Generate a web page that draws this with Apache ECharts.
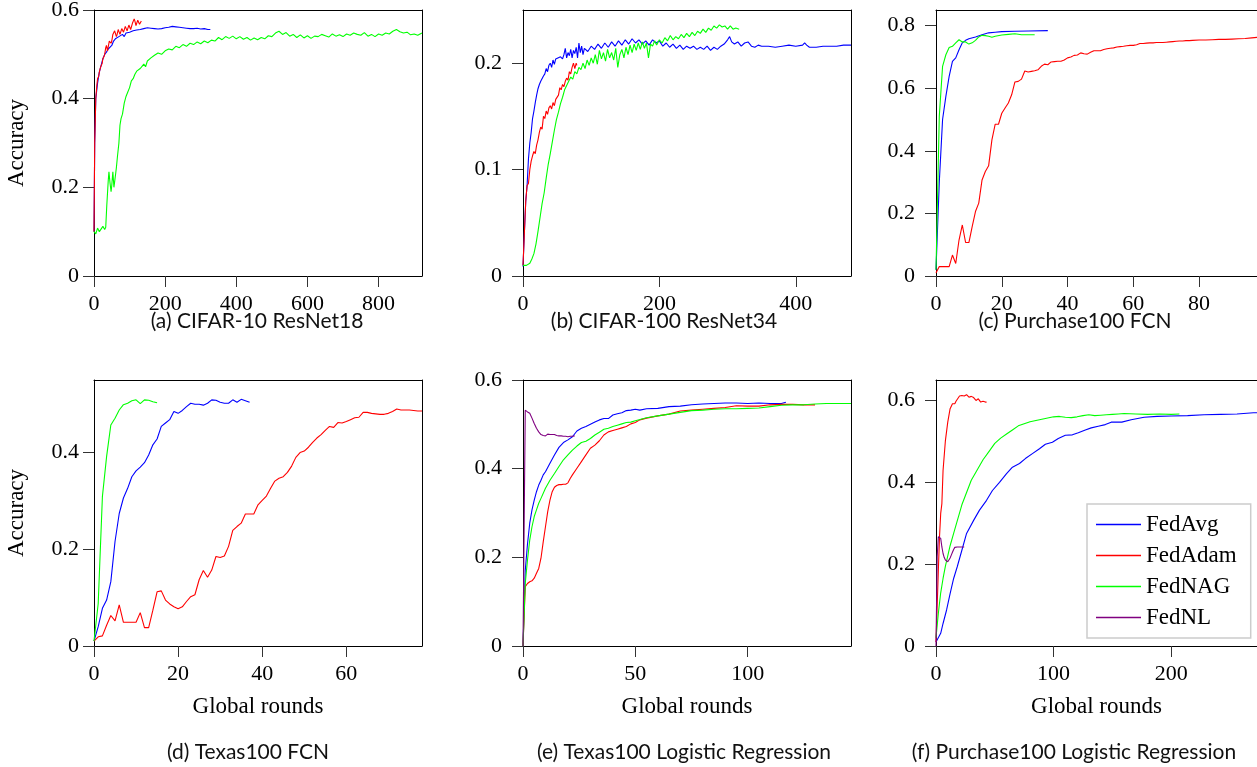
<!DOCTYPE html>
<html><head><meta charset="utf-8">
<script src="https://cdn.jsdelivr.net/npm/echarts@6/dist/echarts.min.js"></script>
<style>html,body{margin:0;padding:0;background:#fff}#c{width:1257px;height:767px}</style>
</head><body><div id="c"></div>
<script>
// ---------- data: [global round, accuracy] ----------
const seriesNames = ['FedAvg','FedAdam','FedNAG','FedNL'];

// (a) CIFAR-10 ResNet18
const aAvg = [[0,0.10],[2,0.30],[5,0.40],[10,0.435],[15,0.46],[20,0.475],[25,0.49],[30,0.50],[35,0.505],[40,0.512],[45,0.515],[50,0.52],[55,0.53],[60,0.535],[65,0.532],[70,0.54],[75,0.538],[80,0.545],[85,0.54],[90,0.548],[95,0.545],[100,0.55],[105,0.547],[110,0.553],[115,0.55],[120,0.555],[125,0.552],[130,0.556],[135,0.553],[140,0.558],[145,0.555],[150,0.56],[155,0.556],[160,0.559],[165,0.562],[170,0.558],[175,0.561],[180,0.557],[185,0.56],[190,0.558],[195,0.562],[200,0.56],[205,0.563],[210,0.561],[215,0.565],[220,0.563],[225,0.567],[230,0.562],[235,0.564],[240,0.561],[245,0.563],[250,0.56],[255,0.562],[260,0.559],[265,0.561],[270,0.558],[275,0.56],[280,0.558],[285,0.561],[290,0.559],[295,0.56],[300,0.557],[305,0.56],[310,0.558],[315,0.559],[320,0.556],[327,0.556]];
const aAdam = [[0,0.10],[2,0.30],[5,0.40],[8,0.43],[10,0.445],[13,0.45],[15,0.46],[18,0.47],[20,0.468],[23,0.48],[25,0.49],[28,0.495],[30,0.50],[33,0.515],[35,0.52],[38,0.508],[40,0.512],[43,0.53],[45,0.528],[48,0.525],[50,0.53],[53,0.545],[55,0.548],[58,0.553],[60,0.55],[63,0.54],[65,0.545],[68,0.556],[70,0.555],[73,0.545],[75,0.548],[78,0.558],[80,0.56],[83,0.55],[85,0.552],[88,0.563],[90,0.562],[93,0.553],[95,0.556],[98,0.566],[100,0.565],[103,0.556],[105,0.558],[108,0.57],[110,0.568],[113,0.58],[115,0.575],[118,0.565],[120,0.567],[123,0.577],[125,0.575],[128,0.568],[130,0.572],[133,0.575]];
const aNag = [[0,0.100],[5,0.095],[10,0.108],[15,0.100],[20,0.097],[25,0.112],[30,0.105],[33,0.11],[36,0.16],[40,0.215],[42,0.235],[45,0.21],[48,0.19],[50,0.205],[53,0.235],[56,0.20],[60,0.225],[63,0.245],[66,0.27],[70,0.30],[73,0.34],[76,0.355],[80,0.365],[85,0.39],[90,0.405],[95,0.415],[100,0.425],[105,0.44],[110,0.445],[115,0.455],[120,0.462],[125,0.458],[130,0.468],[135,0.473],[140,0.478],[145,0.472],[150,0.485],[160,0.492],[170,0.498],[180,0.503],[190,0.500],[200,0.508],[210,0.512],[220,0.510],[230,0.518],[240,0.515],[250,0.522],[260,0.518],[270,0.525],[280,0.522],[290,0.528],[300,0.524],[310,0.530],[320,0.526],[330,0.532],[340,0.530],[350,0.538],[360,0.533],[370,0.540],[380,0.536],[390,0.541],[400,0.535],[410,0.540],[420,0.534],[430,0.538],[440,0.532],[450,0.537],[460,0.533],[470,0.538],[480,0.535],[490,0.542],[500,0.540],[510,0.548],[520,0.552],[530,0.545],[540,0.549],[550,0.541],[560,0.545],[570,0.538],[580,0.544],[590,0.537],[600,0.542],[610,0.536],[620,0.541],[630,0.540],[640,0.545],[650,0.542],[660,0.539],[670,0.546],[680,0.541],[690,0.544],[700,0.540],[710,0.546],[720,0.543],[730,0.548],[740,0.545],[750,0.543],[760,0.549],[770,0.541],[780,0.545],[790,0.540],[800,0.546],[810,0.543],[820,0.548],[830,0.546],[840,0.552],[850,0.556],[860,0.551],[870,0.548],[880,0.550],[890,0.544],[900,0.546],[910,0.543],[922,0.548]];

// (b) CIFAR-100 ResNet34
const bAvg = [[0,0.009],[2,0.04],[4,0.07],[6,0.085],[8,0.11],[10,0.125],[12,0.135],[14,0.148],[16,0.155],[18,0.163],[20,0.17],[22,0.176],[24,0.18],[26,0.183],[28,0.182],[30,0.188],[32,0.19],[34,0.195],[36,0.192],[38,0.198],[40,0.2],[42,0.196],[44,0.203],[46,0.199],[48,0.204],[50,0.203],[55,0.206],[58,0.204],[60,0.208],[62,0.214],[64,0.205],[66,0.21],[68,0.207],[70,0.213],[72,0.205],[74,0.212],[76,0.209],[78,0.215],[80,0.205],[82,0.219],[84,0.21],[86,0.216],[88,0.208],[90,0.214],[95,0.211],[100,0.216],[105,0.213],[110,0.218],[115,0.214],[120,0.219],[125,0.215],[130,0.22],[135,0.216],[140,0.221],[145,0.217],[150,0.222],[155,0.218],[160,0.223],[165,0.219],[170,0.222],[175,0.218],[180,0.221],[185,0.217],[190,0.222],[195,0.219],[200,0.221],[205,0.216],[210,0.219],[215,0.215],[220,0.218],[225,0.214],[230,0.217],[235,0.213],[240,0.216],[245,0.214],[250,0.216],[255,0.213],[260,0.215],[265,0.213],[270,0.216],[275,0.212],[280,0.215],[285,0.213],[290,0.216],[295,0.218],[300,0.222],[303,0.225],[306,0.22],[310,0.218],[315,0.22],[320,0.216],[325,0.219],[330,0.22],[335,0.216],[340,0.215],[345,0.217],[350,0.216],[360,0.216],[370,0.215],[380,0.216],[390,0.217],[400,0.216],[410,0.217],[413,0.219],[416,0.217],[420,0.215],[430,0.215],[440,0.216],[450,0.216],[460,0.216],[470,0.217],[481,0.217]];
const bAdam = [[0,0.01],[2,0.04],[4,0.07],[6,0.085],[8,0.087],[10,0.1],[12,0.108],[14,0.113],[16,0.117],[18,0.115],[20,0.123],[22,0.128],[24,0.135],[26,0.14],[28,0.138],[30,0.15],[32,0.148],[34,0.155],[36,0.152],[38,0.158],[40,0.16],[42,0.157],[44,0.163],[46,0.16],[48,0.166],[50,0.165],[52,0.17],[54,0.177],[56,0.175],[58,0.18],[60,0.178],[62,0.183],[64,0.186],[66,0.184],[68,0.192],[70,0.19],[72,0.196],[74,0.2],[76,0.195],[78,0.2],[79,0.198]];
const bNag = [[0,0.01],[5,0.01],[10,0.012],[13,0.016],[16,0.021],[19,0.03],[22,0.042],[25,0.055],[28,0.068],[31,0.078],[34,0.092],[37,0.105],[40,0.115],[43,0.126],[46,0.137],[49,0.147],[52,0.154],[55,0.162],[58,0.168],[61,0.175],[64,0.179],[67,0.183],[70,0.187],[73,0.185],[76,0.192],[79,0.19],[82,0.196],[85,0.194],[88,0.2],[91,0.195],[94,0.203],[97,0.198],[100,0.205],[103,0.2],[106,0.208],[109,0.199],[112,0.212],[115,0.204],[118,0.21],[121,0.202],[124,0.213],[127,0.205],[130,0.21],[133,0.203],[136,0.214],[139,0.196],[142,0.208],[145,0.213],[148,0.205],[151,0.215],[154,0.208],[157,0.217],[160,0.21],[163,0.218],[166,0.212],[169,0.219],[172,0.213],[175,0.22],[178,0.214],[181,0.219],[184,0.205],[187,0.218],[190,0.216],[193,0.221],[196,0.217],[200,0.222],[204,0.219],[208,0.224],[212,0.221],[216,0.226],[220,0.222],[224,0.225],[228,0.223],[232,0.227],[236,0.224],[240,0.228],[244,0.225],[248,0.229],[252,0.226],[256,0.23],[260,0.228],[264,0.232],[268,0.229],[272,0.233],[276,0.231],[280,0.235],[284,0.233],[288,0.236],[292,0.234],[296,0.235],[300,0.232],[304,0.235],[308,0.232],[312,0.233],[317,0.232]];

// (c) Purchase100 FCN
const cAvg = [[0,0.02],[1,0.3],[2,0.5],[3,0.574],[4,0.638],[5,0.686],[6,0.697],[7,0.723],[8,0.745],[9,0.753],[10,0.758],[12,0.764],[14,0.771],[16,0.777],[18,0.779],[20,0.781],[24,0.782],[28,0.783],[34,0.784]];
const cAdam = [[0,0.01],[1,0.03],[2,0.03],[3,0.03],[4,0.03],[5,0.067],[6,0.04],[7,0.115],[8,0.163],[9,0.107],[10,0.107],[11,0.158],[12,0.206],[13,0.233],[14,0.307],[15,0.334],[16,0.352],[17,0.435],[18,0.485],[19,0.485],[20,0.52],[21,0.537],[22,0.553],[23,0.579],[24,0.62],[25,0.622],[26,0.629],[27,0.655],[28,0.652],[29,0.654],[30,0.656],[31,0.659],[32,0.67],[33,0.677],[34,0.675],[35,0.684],[36,0.685],[37,0.686],[38,0.686],[39,0.69],[40,0.697],[41,0.7],[42,0.705],[43,0.706],[44,0.713],[45,0.71],[46,0.709],[47,0.715],[48,0.72],[49,0.72],[50,0.72],[51,0.724],[52,0.726],[53,0.728],[54,0.729],[55,0.732],[56,0.733],[57,0.734],[58,0.736],[59,0.737],[60,0.737],[61,0.739],[62,0.743],[63,0.743],[64,0.744],[65,0.745],[66,0.745],[67,0.746],[68,0.746],[69,0.746],[70,0.747],[71,0.748],[72,0.749],[73,0.75],[74,0.751],[75,0.751],[76,0.752],[77,0.752],[78,0.753],[80,0.754],[82,0.754],[84,0.755],[86,0.756],[88,0.756],[90,0.757],[92,0.758],[94,0.759],[96,0.761],[98,0.763]];
const cNag = [[0,0.02],[1,0.51],[2,0.67],[3,0.707],[4,0.73],[5,0.734],[6,0.745],[7,0.755],[8,0.748],[9,0.748],[10,0.741],[11,0.745],[12,0.753],[13,0.764],[14,0.769],[15,0.768],[16,0.766],[17,0.763],[18,0.766],[20,0.77],[22,0.772],[24,0.774],[26,0.771],[30,0.771]];

// (d) Texas100 FCN
const dAvg = [[0,0.01],[1,0.04],[2,0.078],[3,0.095],[4,0.133],[5,0.216],[6,0.274],[7,0.306],[8,0.326],[9,0.35],[10,0.362],[11,0.37],[12,0.379],[13,0.395],[14,0.416],[15,0.428],[16,0.454],[17,0.461],[18,0.468],[19,0.485],[20,0.481],[21,0.487],[22,0.495],[23,0.502],[24,0.5],[25,0.5],[26,0.498],[27,0.502],[28,0.509],[29,0.508],[30,0.504],[31,0.502],[32,0.502],[33,0.509],[34,0.504],[35,0.51],[36,0.507],[37,0.504]];
const dAdam = [[0,0.01],[1,0.019],[2,0.021],[3,0.043],[4,0.063],[5,0.052],[6,0.085],[7,0.049],[8,0.049],[9,0.049],[10,0.049],[11,0.069],[12,0.038],[13,0.038],[14,0.074],[15,0.112],[16,0.114],[17,0.095],[18,0.087],[19,0.081],[20,0.077],[21,0.081],[22,0.092],[23,0.102],[24,0.106],[25,0.137],[26,0.156],[27,0.142],[28,0.157],[29,0.185],[30,0.183],[31,0.186],[32,0.206],[33,0.239],[34,0.247],[35,0.254],[36,0.273],[37,0.273],[38,0.273],[39,0.292],[40,0.301],[41,0.31],[42,0.326],[43,0.341],[44,0.347],[45,0.35],[46,0.359],[47,0.372],[48,0.39],[49,0.4],[50,0.403],[51,0.411],[52,0.421],[53,0.43],[54,0.437],[55,0.446],[56,0.454],[57,0.452],[58,0.462],[59,0.461],[60,0.464],[61,0.468],[62,0.472],[63,0.473],[64,0.483],[65,0.483],[66,0.481],[67,0.48],[68,0.479],[69,0.479],[70,0.481],[71,0.485],[72,0.49],[73,0.488],[74,0.488],[75,0.488],[76,0.487],[77,0.486],[78,0.486]];
const dNag = [[0,0.01],[1,0.088],[2,0.309],[3,0.392],[4,0.457],[5,0.471],[6,0.488],[7,0.499],[8,0.502],[9,0.507],[10,0.509],[11,0.501],[12,0.509],[13,0.508],[14,0.505],[15,0.503]];

// (e) Texas100 Logistic Regression
const eAvg = [[0,0.0],[1,0.17],[2,0.23],[3,0.277],[4,0.307],[5,0.329],[6,0.348],[7,0.363],[8,0.374],[9,0.386],[10,0.393],[12,0.412],[14,0.431],[16,0.448],[18,0.459],[20,0.465],[22,0.472],[24,0.485],[26,0.491],[28,0.495],[30,0.5],[32,0.505],[34,0.51],[36,0.513],[38,0.513],[40,0.521],[42,0.524],[44,0.526],[46,0.531],[48,0.532],[50,0.534],[52,0.532],[55,0.535],[60,0.536],[65,0.54],[70,0.541],[75,0.544],[80,0.546],[85,0.547],[90,0.548],[95,0.548],[100,0.547],[105,0.548],[110,0.547],[115,0.547],[117,0.55]];
const eAdam = [[0,0.0],[1,0.134],[2,0.141],[3,0.145],[4,0.147],[5,0.153],[6,0.164],[7,0.175],[8,0.198],[9,0.235],[10,0.269],[11,0.303],[12,0.329],[13,0.348],[14,0.358],[15,0.362],[16,0.364],[17,0.364],[18,0.365],[19,0.365],[20,0.368],[21,0.378],[22,0.386],[24,0.401],[26,0.416],[28,0.431],[30,0.446],[32,0.453],[34,0.463],[36,0.476],[38,0.483],[40,0.486],[42,0.489],[44,0.492],[46,0.495],[48,0.501],[50,0.504],[52,0.51],[55,0.514],[60,0.519],[65,0.523],[70,0.53],[75,0.532],[80,0.534],[85,0.536],[90,0.538],[95,0.542],[100,0.541],[105,0.541],[110,0.544],[115,0.545],[120,0.545],[125,0.544],[130,0.544]];
const eNag = [[0,0.0],[1,0.141],[2,0.194],[3,0.239],[4,0.269],[5,0.292],[6,0.307],[7,0.322],[8,0.333],[10,0.356],[12,0.374],[14,0.389],[16,0.405],[18,0.42],[20,0.431],[22,0.442],[24,0.451],[26,0.459],[28,0.462],[30,0.468],[32,0.476],[34,0.482],[36,0.489],[38,0.491],[40,0.495],[42,0.498],[44,0.501],[46,0.504],[48,0.505],[50,0.508],[55,0.515],[60,0.519],[65,0.523],[70,0.527],[75,0.531],[80,0.532],[85,0.534],[90,0.535],[95,0.535],[100,0.536],[105,0.537],[110,0.54],[115,0.543],[120,0.544],[125,0.544],[130,0.546],[135,0.547],[140,0.547],[146,0.547]];
const eNl = [[0,0.0],[1,0.532],[2,0.528],[3,0.525],[4,0.514],[5,0.502],[6,0.491],[7,0.483],[8,0.477],[9,0.475],[10,0.474],[11,0.478],[12,0.477],[13,0.477],[14,0.477],[15,0.475],[16,0.474],[17,0.474],[18,0.473],[19,0.473],[20,0.472],[21,0.473],[22,0.473],[23,0.474]];

// (f) Purchase100 Logistic Regression
const fAvg = [[0,0.01],[4,0.031],[6,0.055],[9,0.088],[12,0.128],[15,0.165],[18,0.193],[22,0.234],[26,0.275],[32,0.307],[37,0.332],[43,0.356],[48,0.38],[54,0.4],[60,0.421],[65,0.437],[71,0.446],[76,0.458],[82,0.47],[88,0.482],[93,0.493],[99,0.498],[104,0.507],[110,0.515],[116,0.516],[121,0.521],[127,0.528],[132,0.533],[138,0.537],[144,0.541],[149,0.547],[158,0.547],[166,0.553],[177,0.559],[188,0.561],[200,0.562],[214,0.563],[228,0.565],[242,0.566],[256,0.567],[270,0.57],[273,0.57]];
const fAdam = [[0,0.01],[2,0.185],[3,0.267],[4,0.324],[5,0.348],[6,0.429],[8,0.502],[10,0.547],[12,0.58],[14,0.592],[16,0.592],[17,0.598],[18,0.602],[20,0.611],[22,0.612],[24,0.611],[26,0.614],[28,0.608],[30,0.61],[32,0.607],[34,0.6],[36,0.604],[38,0.596],[40,0.598],[42,0.596],[43,0.596]];
const fNag = [[0,0.02],[2,0.08],[4,0.13],[6,0.165],[8,0.195],[10,0.22],[12,0.245],[15,0.275],[18,0.305],[22,0.345],[26,0.375],[30,0.405],[35,0.43],[40,0.455],[45,0.475],[50,0.495],[55,0.508],[60,0.518],[65,0.528],[70,0.538],[75,0.543],[80,0.548],[85,0.551],[90,0.554],[95,0.557],[100,0.56],[105,0.561],[110,0.559],[115,0.558],[120,0.56],[125,0.563],[130,0.565],[135,0.563],[140,0.564],[145,0.565],[150,0.566],[155,0.567],[160,0.568],[170,0.567],[180,0.566],[190,0.567],[200,0.566],[207,0.567]];
const fNl = [[0,0.0],[1,0.218],[2,0.267],[3,0.269],[4,0.263],[5,0.242],[6,0.226],[7,0.216],[8,0.21],[9,0.206],[10,0.206],[11,0.21],[12,0.215],[13,0.222],[14,0.229],[15,0.236],[16,0.241],[18,0.242],[20,0.242],[22,0.242],[24,0.242]];

// tick values
const xTicksA = [0,200,400,600,800], yTicksA = [0,0.2,0.4,0.6];
const xTicksB = [0,200,400],         yTicksB = [0,0.1,0.2];
const xTicksC = [0,20,40,60,80],     yTicksC = [0,0.2,0.4,0.6,0.8];
const xTicksD = [0,20,40,60],        yTicksD = [0,0.2,0.4];
const xTicksE = [0,50,100],          yTicksE = [0,0.2,0.4,0.6];
const xTicksF = [0,100,200],         yTicksF = [0,0.2,0.4,0.6];

const captions = ['(a) CIFAR-10 ResNet18','(b) CIFAR-100 ResNet34','(c) Purchase100 FCN',
                  '(d) Texas100 FCN','(e) Texas100 Logistic Regression','(f) Purchase100 Logistic Regression'];

// ---------- layout ----------
const colors = ['#0000ff','#ff0000','#00ff00','#800080'];
const serif = 'Liberation Serif';
const panels = [
  {g:{left:94, top:10, width:328, height:266},  xmax:922, ymax:0.6,  xt:xTicksA, yt:yTicksA, yName:true,  xName:false, lm:14, data:[aAvg,aAdam,aNag,null], cap:[257,310]},
  {g:{left:523,top:10, width:328, height:266},  xmax:481, ymax:0.25, xt:xTicksB, yt:yTicksB, yName:false, xName:false, lm:20, data:[bAvg,bAdam,bNag,null], cap:[664,310]},
  {g:{left:936,top:10, width:326, height:266},  xmax:97.6,ymax:0.85, xt:xTicksC, yt:yTicksC, yName:false, xName:false, lm:20, data:[cAvg,cAdam,cNag,null], cap:[1075,310]},
  {g:{left:94, top:380,width:328, height:266},  xmax:78,  ymax:0.55, xt:xTicksD, yt:yTicksD, yName:true,  xName:true,  lm:14, data:[dAvg,dAdam,dNag,null], cap:[248,741]},
  {g:{left:523,top:380,width:328, height:266},  xmax:146, ymax:0.6,  xt:xTicksE, yt:yTicksE, yName:false, xName:true,  lm:20, data:[eAvg,eAdam,eNag,eNl], cap:[684,741]},
  {g:{left:936,top:380,width:326, height:266},  xmax:273, ymax:0.65, xt:xTicksF, yt:yTicksF, yName:false, xName:true,  lm:20, data:[fAvg,fAdam,fNag,fNl], cap:[1074,741]}
];

const grid=[], xAxis=[], yAxis=[], series=[], title=[];
const lineBlack = {lineStyle:{color:'#000', width:1}};
const fmt = v => (v===0 ? '0' : String(+(+v).toFixed(2)));
const tickFont = {fontFamily:serif, fontSize:22, color:'#000', opacity:1};
panels.forEach((p,i)=>{
  grid.push(Object.assign({containLabel:false}, p.g));
  const xi = xAxis.length, yi = yAxis.length;
  xAxis.push({type:'value', gridIndex:i, min:0, max:p.xmax, position:'bottom',
    axisLine:Object.assign({show:true, onZero:false}, lineBlack),
    axisTick:{show:true, customValues:p.xt, length:11, lineStyle:{color:'#333', width:1}},
    axisLabel:{show:false}, splitLine:{show:false},
    name:p.xName?'Global rounds':'', nameLocation:'middle', nameGap:49,
    nameTextStyle:{fontFamily:serif, fontSize:23, color:'#000'}});
  xAxis.push({type:'value', gridIndex:i, min:0, max:p.xmax, position:'top',
    axisLine:Object.assign({show:true, onZero:false}, lineBlack), axisTick:{show:false}, axisLabel:{show:false}, splitLine:{show:false}});
  yAxis.push({type:'value', gridIndex:i, min:0, max:p.ymax, position:'left',
    axisLine:Object.assign({show:true, onZero:false}, lineBlack),
    axisTick:{show:true, customValues:p.yt, length:11, lineStyle:{color:'#333', width:1}},
    axisLabel:{show:false}, splitLine:{show:false},
    name:p.yName?'Accuracy':'', nameLocation:'middle', nameGap:66, nameRotate:90,
    nameTextStyle:{fontFamily:serif, fontSize:23, color:'#000'}});
  yAxis.push({type:'value', gridIndex:i, min:0, max:p.ymax, position:'right',
    axisLine:Object.assign({show:true, onZero:false}, lineBlack), axisTick:{show:false}, axisLabel:{show:false}, splitLine:{show:false}});
  p.data.forEach((d,k)=>{
    if(!d) return;
    series.push({type:'line', name:seriesNames[k], xAxisIndex:xi, yAxisIndex:yi, data:d,
      symbol:'none', showSymbol:false, smooth:false, silent:true, animation:false,
      lineStyle:{color:colors[k], width:1.1}, itemStyle:{color:colors[k]}, z:2+k});
  });
  // tick labels placed at the tick values through the panel's own axes
  series.push({type:'scatter', name:'xticks'+i, xAxisIndex:xi, yAxisIndex:yi, clip:false, silent:true, z:10,
    data:p.xt.map(v=>[v,0]), symbolSize:2, itemStyle:{color:'rgba(255,255,255,0)', opacity:1},
    label:Object.assign({show:true, position:'bottom', distance:16, formatter:q=>fmt(q.value[0])}, tickFont)});
  series.push({type:'scatter', name:'yticks'+i, xAxisIndex:xi, yAxisIndex:yi, clip:false, silent:true, z:10,
    data:p.yt.map(v=>[0,v]), symbolSize:2, itemStyle:{color:'rgba(255,255,255,0)', opacity:1},
    label:Object.assign({show:true, position:'left', distance:p.lm, formatter:q=>fmt(q.value[1])}, tickFont)});
  title.push({text:captions[i], left:p.cap[0], top:p.cap[1], textAlign:'center', padding:0,
    textStyle:{fontFamily:'Lato', fontSize:21, fontWeight:'normal', color:'#111', lineHeight:22}});
});
const chart = echarts.init(document.getElementById('c'), null, {renderer:'canvas'});
chart.setOption({
  animation:false,
  backgroundColor:'#fff',
  title, grid, xAxis, yAxis, series,
  legend:{data:seriesNames.map((n,k)=>({name:n, icon:'rect', itemStyle:{color:colors[k]}})),
    orient:'vertical', left:1087, top:504, selectedMode:false,
    itemWidth:45, itemHeight:1.6, itemGap:8, padding:[9,14,9,9],
    borderColor:'#cccccc', borderWidth:1.5, backgroundColor:'#fff',
    textStyle:{fontFamily:serif, fontSize:23, color:'#000', lineHeight:23}}
});
</script>
</body></html>
